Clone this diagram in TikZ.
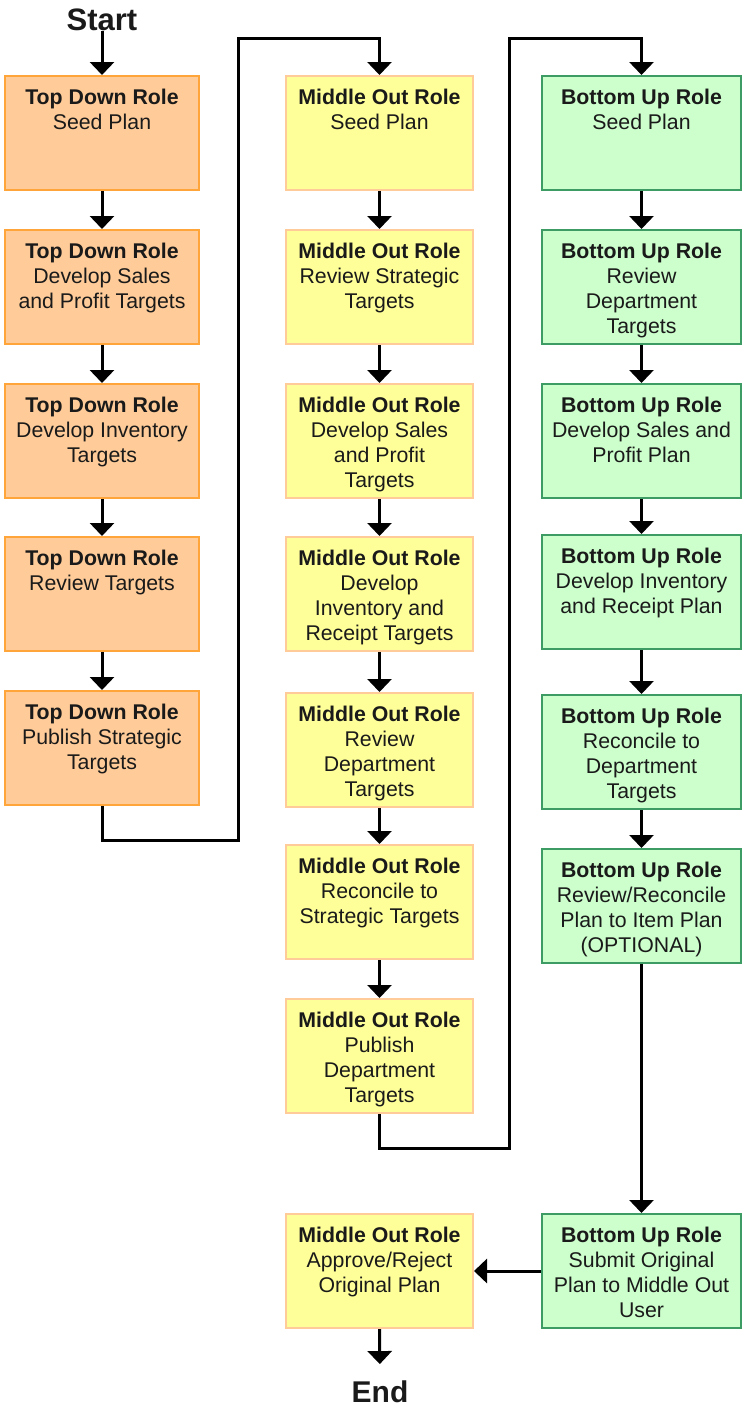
\documentclass[tikz,border=0pt]{standalone}
\usepackage{fontspec}
\setmainfont{Liberation Sans}
\usetikzlibrary{arrows.meta}
\definecolor{ofill}{HTML}{FFCC99}
\definecolor{odraw}{HTML}{FFA53A}
\definecolor{yfill}{HTML}{FFFF99}
\definecolor{ydraw}{HTML}{FFCC99}
\definecolor{gfill}{HTML}{CCFFCC}
\definecolor{gdraw}{HTML}{3C9C64}
\definecolor{txt}{HTML}{1A1A1A}
\newcommand\bx[2]{\parbox[c][114pt][t]{180pt}{\centering\rule{0pt}{28pt}\textbf{#1}\\#2}}
\begin{document}
\begin{tikzpicture}[x=1pt,y=-1pt,
  stepbox/.style={rectangle, anchor=north, inner sep=0pt, minimum height=114pt, line width=2pt,
    text=txt, font=\fontsize{21.3}{25.3}\selectfont},
  obox/.style={stepbox, fill=ofill, draw=odraw, minimum width=194pt},
  ybox/.style={stepbox, fill=yfill, draw=ydraw, minimum width=187pt},
  gbox/.style={stepbox, fill=gfill, draw=gdraw, minimum width=199pt},
  term/.style={inner sep=0pt, anchor=base, font=\bfseries\fontsize{31}{31}\selectfont, text=txt},
  arr/.style={line width=3pt, -{Triangle[width=24pt,length=13pt]}},
  conn/.style={line width=3pt}]
\useasboundingbox (0,0) rectangle (742,1408);

\node[term] (start) at (102,30) {Start};
\node[term, font=\bfseries\fontsize{30}{30}\selectfont] (end) at (380,1402) {End};

% Top Down column
\node[obox] (o1) at (102,75) {\bx{Top Down Role}{Seed Plan}};
\node[obox] (o2) at (102,229) {\bx{Top Down Role}{Develop Sales\\and Profit Targets}};
\node[obox] (o3) at (102,383) {\bx{Top Down Role}{Develop Inventory\\Targets}};
\node[obox] (o4) at (102,536) {\bx{Top Down Role}{Review Targets}};
\node[obox] (o5) at (102,690) {\bx{Top Down Role}{Publish Strategic\\Targets}};

% Middle Out column
\node[ybox] (y1) at (379.5,75) {\bx{Middle Out Role}{Seed Plan}};
\node[ybox] (y2) at (379.5,229) {\bx{Middle Out Role}{Review Strategic\\Targets}};
\node[ybox] (y3) at (379.5,383) {\bx{Middle Out Role}{Develop Sales\\and Profit\\Targets}};
\node[ybox] (y4) at (379.5,536) {\bx{Middle Out Role}{Develop\\Inventory and\\Receipt Targets}};
\node[ybox] (y5) at (379.5,692) {\bx{Middle Out Role}{Review\\Department\\Targets}};
\node[ybox] (y6) at (379.5,844) {\bx{Middle Out Role}{Reconcile to\\Strategic Targets}};
\node[ybox] (y7) at (379.5,998) {\bx{Middle Out Role}{Publish\\Department\\Targets}};
\node[ybox] (y8) at (379.5,1213) {\bx{Middle Out Role}{Approve/Reject\\Original Plan}};

% Bottom Up column
\node[gbox] (g1) at (641.5,75) {\bx{Bottom Up Role}{Seed Plan}};
\node[gbox] (g2) at (641.5,229) {\bx{Bottom Up Role}{Review\\Department\\Targets}};
\node[gbox] (g3) at (641.5,383) {\bx{Bottom Up Role}{Develop Sales and\\Profit Plan}};
\node[gbox] (g4) at (641.5,534) {\bx{Bottom Up Role}{Develop Inventory\\and Receipt Plan}};
\node[gbox] (g5) at (641.5,694) {\bx{Bottom Up Role}{Reconcile to\\Department\\Targets}};
\node[gbox] (g6) at (641.5,848) {\bx{Bottom Up Role}{Review/Reconcile\\Plan to Item Plan\\(OPTIONAL)}};
\node[gbox] (g7) at (641.5,1213) {\bx{Bottom Up Role}{Submit Original\\Plan to Middle Out\\User}};

\coordinate (c1) at (238,840);
\coordinate (c2) at (238,38);
\coordinate (c3) at (509,1148);
\coordinate (c4) at (509,38);

\draw[arr] (start.south) -- (o1.north);
\draw[arr] (o1) -- (o2);
\draw[arr] (o2) -- (o3);
\draw[arr] (o3) -- (o4);
\draw[arr] (o4) -- (o5);
\draw[arr] (o5.south) |- (c1) -- (c2) -| (y1.north);
\draw[arr] (y1) -- (y2);
\draw[arr] (y2) -- (y3);
\draw[arr] (y3) -- (y4);
\draw[arr] (y4) -- (y5);
\draw[arr] (y5) -- (y6);
\draw[arr] (y6) -- (y7);
\draw[arr] (y7.south) |- (c3) -- (c4) -| (g1.north);
\draw[arr] (g1) -- (g2);
\draw[arr] (g2) -- (g3);
\draw[arr] (g3) -- (g4);
\draw[arr] (g4) -- (g5);
\draw[arr] (g5) -- (g6);
\draw[arr] (g6) -- (g7);
\draw[arr] (g7.west) -- (y8.east);
\draw[arr, shorten >=16pt] (y8.south) -- (end.north);
\end{tikzpicture}
\end{document}
